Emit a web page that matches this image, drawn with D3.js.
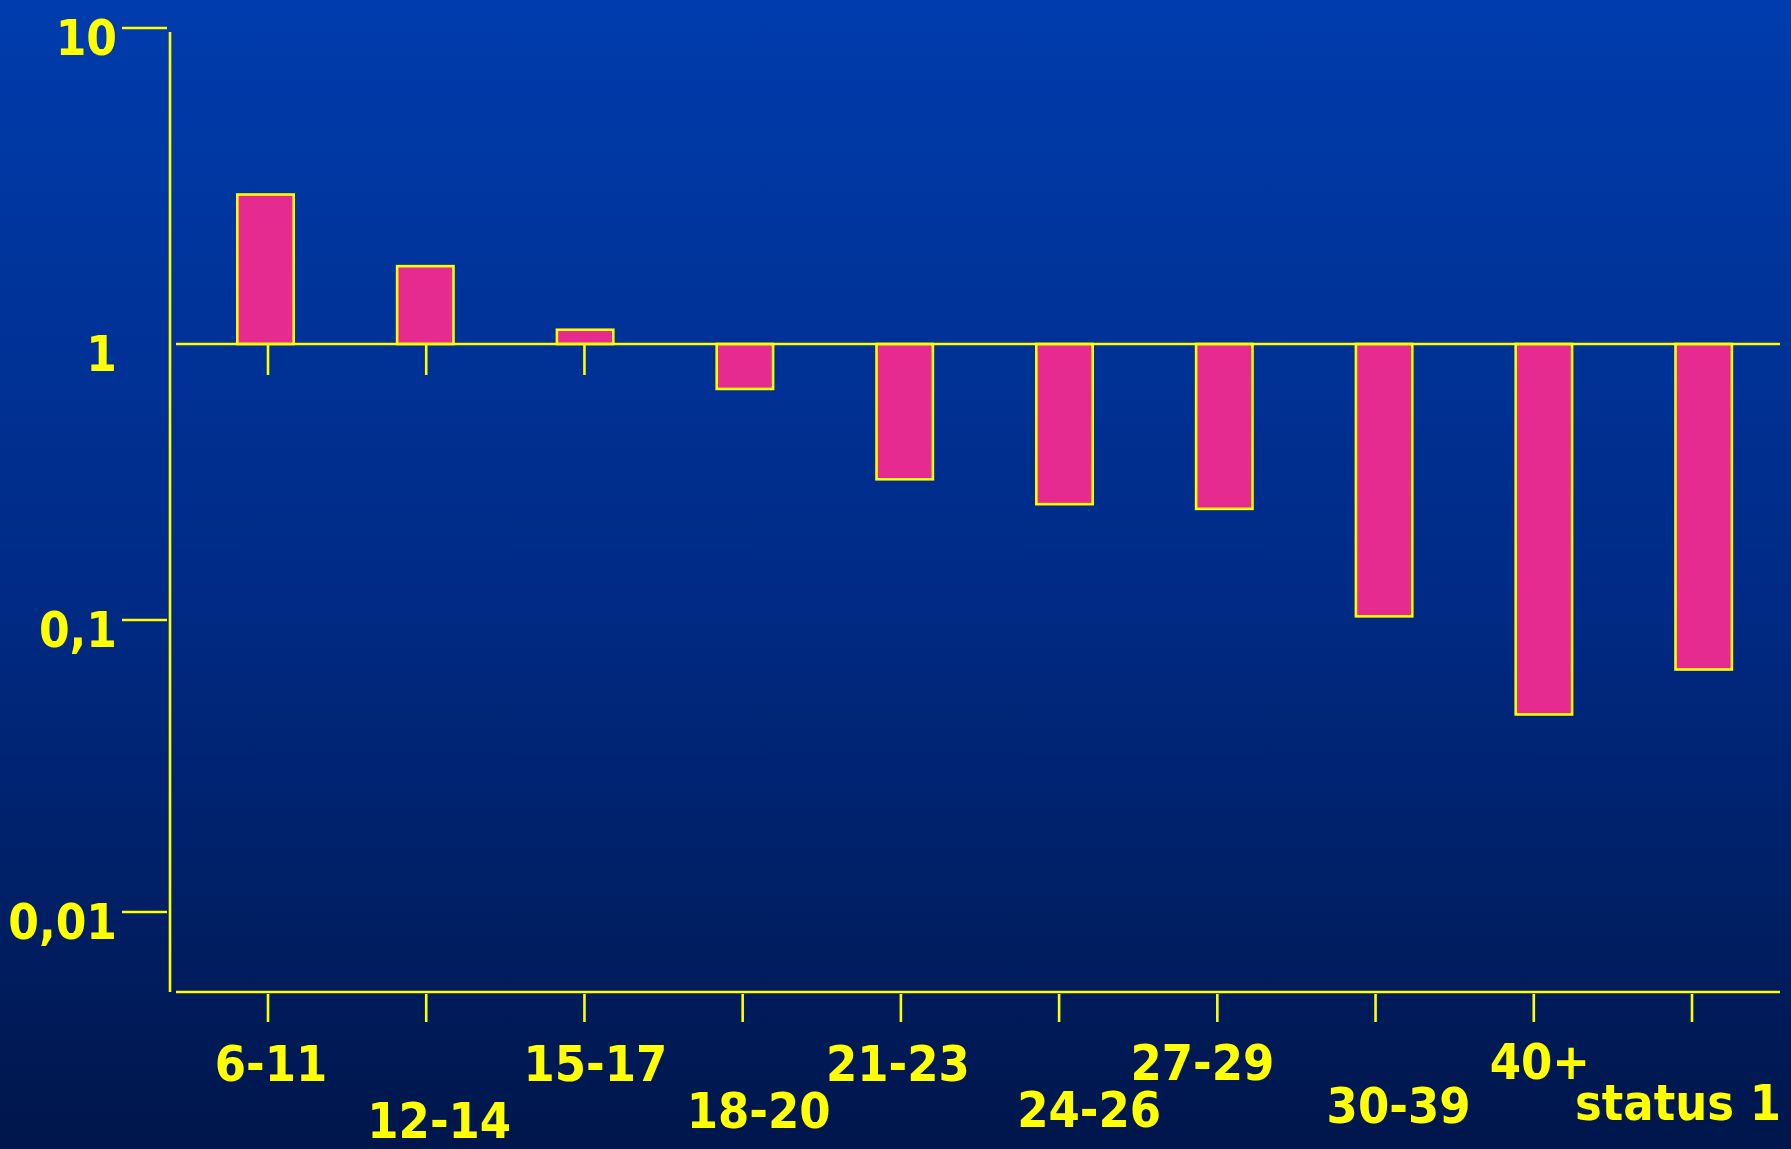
<!DOCTYPE html>
<html>
<head>
<meta charset="utf-8">
<script src="https://cdn.jsdelivr.net/npm/d3@7"></script>
<style>
  html, body { margin: 0; padding: 0; background: #00164c; }
  svg { display: block; }
  text { font-family: "DejaVu Sans Condensed", "DejaVu Sans", sans-serif; font-weight: bold; fill: #ffff00; }
</style>
</head>
<body>
<script>
// Age groups (plus the "status 1" group) and their relative values on a log scale
const categories = ["6-11", "12-14", "15-17", "18-20", "21-23", "24-26", "27-29", "30-39", "40+", "status 1"];
const values = [3.0, 1.78, 1.12, 0.68, 0.32, 0.26, 0.25, 0.102, 0.047, 0.067];
const yTickValues = [10, 1, 0.1, 0.01];

const W = 1791, H = 1149;
const yellow = "#ffff00";
const barFill = "#e52b8f";
const lineW = 2.6;

const svg = d3.select("body").append("svg").attr("width", W).attr("height", H);

// background gradient
const defs = svg.append("defs");
const grad = defs.append("linearGradient").attr("id", "bg").attr("x1", 0).attr("y1", 0).attr("x2", 0).attr("y2", 1);
grad.append("stop").attr("offset", "0%").attr("stop-color", "#003cad");
grad.append("stop").attr("offset", "50%").attr("stop-color", "#002b87");
grad.append("stop").attr("offset", "100%").attr("stop-color", "#00164b");
svg.append("rect").attr("width", W).attr("height", H).attr("fill", "url(#bg)");

// piecewise log scale: each decade has its own drawn height
const y = d3.scaleLog()
  .domain([0.01, 0.1, 1, 10])
  .range([912, 620, 344, 28]);

// bars sit in bands; category ticks are on a slightly narrower point scale
const x = d3.scaleBand()
  .domain(categories)
  .range([185.6, 1783.6])
  .paddingInner(0.631)
  .paddingOuter(0.3155);
const xTick = d3.scalePoint()
  .domain(categories)
  .range([268, 1692]);

const fmt = d3.formatLocale({ decimal: ",", thousands: ".", grouping: [3], currency: ["", ""] }).format("~g");

const axisX = 170, axisBottom = 992, plotLeft = 176, plotRight = 1780;

// vertical axis
svg.append("line")
  .attr("x1", axisX).attr("x2", axisX)
  .attr("y1", 32).attr("y2", axisBottom)
  .attr("stroke", yellow).attr("stroke-width", lineW);

// y ticks (the value 1 is marked by the reference line itself)
const yTicks = svg.append("g");
yTicks.selectAll("line")
  .data(yTickValues.filter(v => v !== 1))
  .join("line")
  .attr("x1", 122).attr("x2", 167)
  .attr("y1", d => y(d)).attr("y2", d => y(d))
  .attr("stroke", yellow).attr("stroke-width", lineW);
yTicks.selectAll("text")
  .data(yTickValues)
  .join("text")
  .attr("x", 117)
  .attr("y", d => y(d) + 27)
  .attr("text-anchor", "end")
  .attr("font-size", 49)
  .text(d => fmt(d));

// short ticks hanging under the reference line
svg.append("g").selectAll("line")
  .data(categories)
  .join("line")
  .attr("x1", d => xTick(d)).attr("x2", d => xTick(d))
  .attr("y1", y(1)).attr("y2", y(1) + 31)
  .attr("stroke", yellow).attr("stroke-width", lineW);

// bars grow up or down from 1
svg.append("g").selectAll("rect")
  .data(categories.map((c, i) => ({ c, v: values[i] })))
  .join("rect")
  .attr("x", d => x(d.c) + 1.3)
  .attr("width", x.bandwidth() - 2.6)
  .attr("y", d => Math.min(y(d.v), y(1)) + (d.v >= 1 ? 1.3 : 0))
  .attr("height", d => Math.abs(y(d.v) - y(1)) - 1.3)
  .attr("fill", barFill)
  .attr("stroke", yellow)
  .attr("stroke-width", lineW);

// reference line at 1
svg.append("line")
  .attr("x1", plotLeft).attr("x2", plotRight)
  .attr("y1", y(1)).attr("y2", y(1))
  .attr("stroke", yellow).attr("stroke-width", lineW);

// bottom axis with category ticks
svg.append("line")
  .attr("x1", plotLeft).attr("x2", plotRight)
  .attr("y1", axisBottom).attr("y2", axisBottom)
  .attr("stroke", yellow).attr("stroke-width", lineW);
svg.append("g").selectAll("line")
  .data(categories)
  .join("line")
  .attr("x1", d => xTick(d)).attr("x2", d => xTick(d))
  .attr("y1", axisBottom + 2).attr("y2", axisBottom + 30)
  .attr("stroke", yellow).attr("stroke-width", lineW);

// staggered category labels: horizontal nudge and baseline per label
const labelDx = [3, 13, 11, 16, -3, 30, -15, 23, 6, -14];
const labelBaseline = [1081, 1138, 1081, 1128, 1081, 1127, 1080, 1123, 1079, 1120];
svg.append("g").selectAll("text")
  .data(categories)
  .join("text")
  .attr("x", (d, i) => xTick(d) + labelDx[i])
  .attr("y", (d, i) => labelBaseline[i])
  .attr("text-anchor", "middle")
  .attr("font-size", 50)
  .text(d => d);
</script>
</body>
</html>
